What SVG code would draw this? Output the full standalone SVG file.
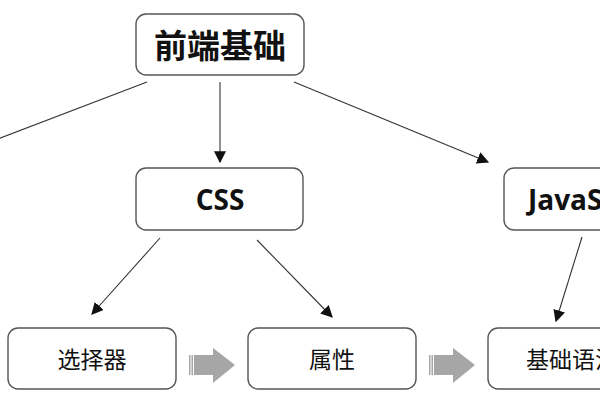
<svg xmlns="http://www.w3.org/2000/svg" width="600" height="400" viewBox="0 0 600 400">
<defs>
<style>
.box{fill:#fff;stroke:#555;stroke-width:1.4}
.t{font-family:"Open Sans","Noto Sans CJK SC",sans-serif;fill:#111;text-anchor:middle;dominant-baseline:central}
.b{font-weight:bold}
.conn{stroke:#333;stroke-width:1.1;fill:none;marker-end:url(#ah)}
.blk{fill:#a6a6a6}
</style>
<marker id="ah" viewBox="0 0 10 10" refX="9" refY="5" markerWidth="12" markerHeight="12" markerUnits="userSpaceOnUse" orient="auto">
<path d="M0,0 L10,5 L0,10 z" fill="#111"/>
</marker>
<g id="blockarrow">
<rect x="0" y="7" width="1.5" height="20"/>
<rect x="2.5" y="7" width="1.5" height="20"/>
<rect x="5" y="7" width="19" height="20"/>
<path d="M24,0 L46,17 L24,35 z"/>
</g>
</defs>
<rect width="600" height="400" fill="#fff"/>
<g id="connectors">
<line class="conn" x1="147" y1="82" x2="-10" y2="142" style="marker-end:none"/>
<line class="conn" x1="220" y1="82" x2="220" y2="162"/>
<line class="conn" x1="294" y1="82" x2="488" y2="162"/>
<line class="conn" x1="160" y1="238" x2="92" y2="314"/>
<line class="conn" x1="257" y1="240" x2="332" y2="317"/>
<line class="conn" x1="582" y1="237" x2="556" y2="321"/>
<use href="#blockarrow" x="189" y="348" class="blk"/>
<use href="#blockarrow" x="429" y="348" class="blk"/>
</g>
<g id="root">
<rect class="box" x="136" y="14" width="168" height="61" rx="10"/>
<text class="t b" x="220" y="45" font-size="33">前端基础</text>
</g>
<g id="css">
<rect class="box" x="136" y="168" width="167" height="62" rx="10"/>
<text class="t b" x="220" y="199" font-size="28">CSS</text>
</g>
<g id="js">
<rect class="box" x="504" y="168" width="168" height="62" rx="10"/>
<text class="t b" x="528" y="199" font-size="28" style="text-anchor:start">JavaScript</text>
</g>
<g id="selector">
<rect class="box" x="8" y="328" width="168" height="61" rx="10"/>
<text class="t" x="92" y="359" font-size="23">选择器</text>
</g>
<g id="property">
<rect class="box" x="248" y="328" width="168" height="61" rx="10"/>
<text class="t" x="332" y="359" font-size="23">属性</text>
</g>
<g id="syntax">
<rect class="box" x="488" y="328" width="168" height="61" rx="10"/>
<text class="t" x="572" y="359" font-size="23">基础语法</text>
</g>
</svg>
